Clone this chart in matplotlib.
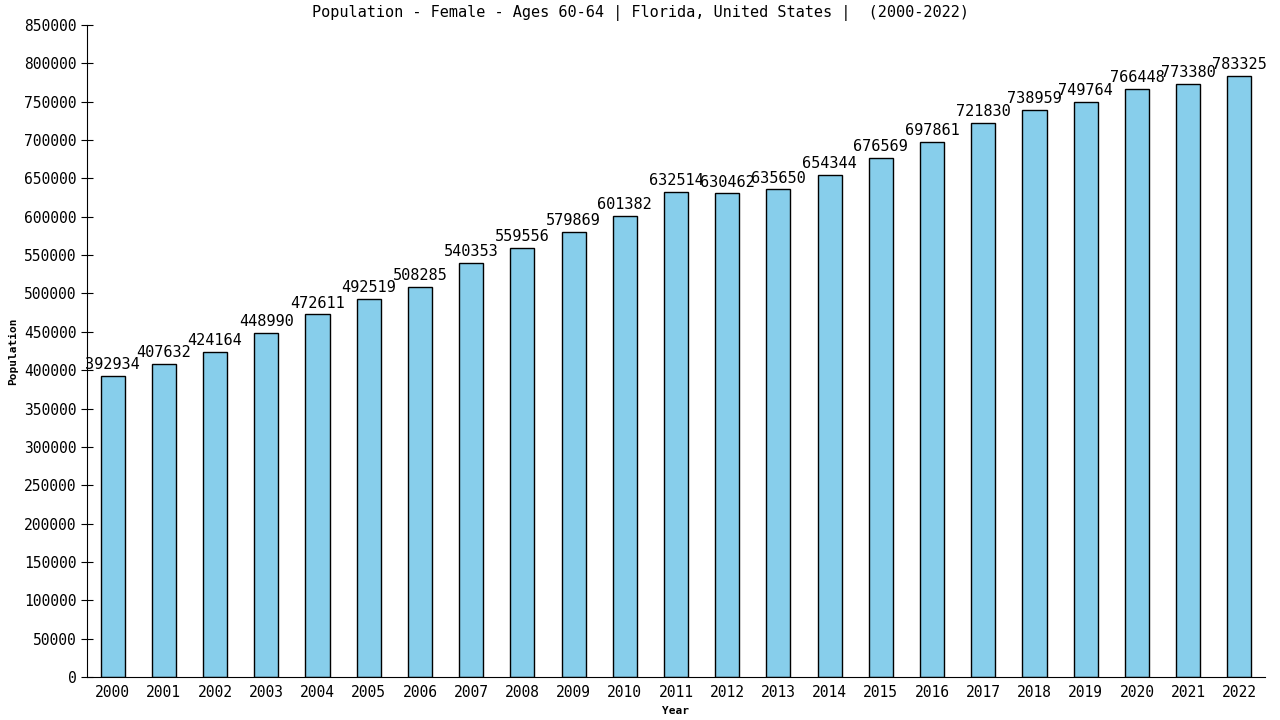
import matplotlib
matplotlib.use("Agg")
import matplotlib.pyplot as plt

years = list(range(2000, 2023))
population = [392934, 407632, 424164, 448990, 472611, 492519, 508285, 540353,
              559556, 579869, 601382, 632514, 630462, 635650, 654344, 676569,
              697861, 721830, 738959, 749764, 766448, 773380, 783325]

plt.rcParams['font.family'] = ['DejaVu Sans Mono']

fig = plt.figure(figsize=(12.8, 7.2), dpi=100)
ax = fig.add_axes([87 / 1280, 43 / 720, (1265 - 87) / 1280, (677 - 25) / 720])

x = list(range(len(years)))
ax.bar(x, population, width=0.47, color='#87CEEB', edgecolor='black', linewidth=1)

# value labels above each bar
for xi, v in zip(x, population):
    ax.text(xi, v + 5000, str(v), ha='center', va='bottom', fontsize=11)

ax.set_xlim(-0.5, 22.5)
ax.set_ylim(0, 850000)
ax.set_yticks(range(0, 850001, 50000))
ax.set_xticks(x)
ax.set_xticklabels([str(y) for y in years])
ax.tick_params(axis='y', direction='inout', length=8, labelsize=10.5)
ax.tick_params(axis='x', length=0, labelsize=10.5, pad=6)

for side in ['top', 'right']:
    ax.spines[side].set_visible(False)

# title is centred on the whole figure, not on the axes
fig.text(0.5, 1 - 13 / 720, 'Population - Female - Ages 60-64 | Florida, United States |  (2000-2022)',
         ha='center', va='center', fontsize=11)
ax.set_xlabel('Year', fontsize=8, fontweight='bold', labelpad=4)
ax.set_ylabel('Population', fontsize=8, fontweight='bold', labelpad=4)

fig.savefig('out.png', dpi=100)
